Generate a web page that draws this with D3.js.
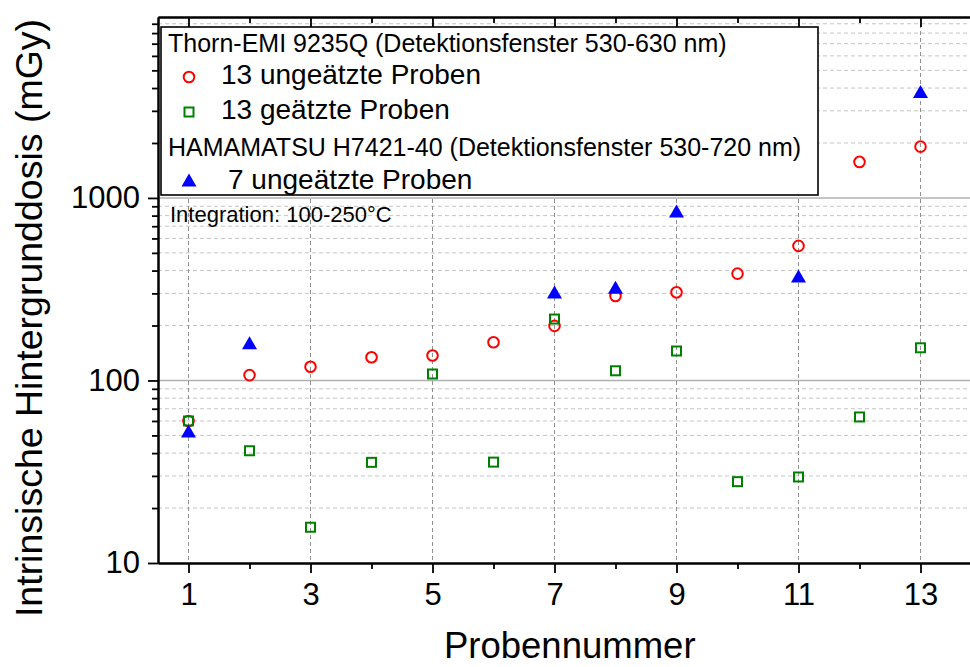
<!DOCTYPE html>
<html>
<head>
<meta charset="utf-8">
<script src="https://cdn.jsdelivr.net/npm/d3@7"></script>
<style>
  body { margin: 0; background: #fff; }
  text { font-family: "Liberation Sans", Arial, Helvetica, sans-serif; fill: #000; }
</style>
</head>
<body>
<svg id="chart" width="970" height="667"></svg>
<script>
// Intrinsic background dose per sample (mGy)
const sampleNumbers = d3.range(1, 14);
const unetchedThorn = [60, 107, 119, 134, 137, 162, 199, 290, 304, 385, 546, 1575, 1910];
const etchedThorn = [60, 41.2, 15.7, 35.6, 108.5, 35.7, 217, 113, 145, 27.9, 29.6, 63.1, 151];
const hamamatsuSamples = [1, 2, 7, 8, 9, 11, 13];
const unetchedHamamatsu = [52.2, 159, 301, 320, 838, 369, 3776];

const xMajorTicks = [1, 3, 5, 7, 9, 11, 13];
const xMinorTicks = [2, 4, 6, 8, 10, 12, 14];
const yMajorTicks = [10, 100, 1000];

const svg = d3.select("#chart");
const plotLeft = 158, plotTop = 17, plotBottom = 563, plotRight = 981.5;

const x = d3.scaleLinear().domain([0.5, 14]).range([plotLeft, plotRight]);
const y = d3.scaleLog().domain([10, 9800]).range([plotBottom, plotTop]);

const yMinorTicks = [];
yMajorTicks.forEach(d => { for (let k = 2; k <= 9; k++) if (d * k <= 9800) yMinorTicks.push(d * k); });

// grid
const grid = svg.append("g");
grid.selectAll(".hminor").data(yMinorTicks).join("line")
  .attr("x1", plotLeft).attr("x2", plotRight)
  .attr("y1", d => y(d)).attr("y2", d => y(d))
  .attr("stroke", "#c4c4c4").attr("stroke-width", 1).attr("stroke-dasharray", "4,3");
grid.selectAll(".hmajor").data([100, 1000]).join("line")
  .attr("x1", plotLeft).attr("x2", plotRight)
  .attr("y1", d => y(d)).attr("y2", d => y(d))
  .attr("stroke", "#b0b0b0").attr("stroke-width", 1.6);
grid.selectAll(".vmajor").data(xMajorTicks).join("line")
  .attr("x1", d => x(d)).attr("x2", d => x(d))
  .attr("y1", plotTop).attr("y2", plotBottom)
  .attr("stroke", "#909090").attr("stroke-width", 1).attr("stroke-dasharray", "4,3");

// data marks
const marks = svg.append("g");
marks.selectAll(".c").data(sampleNumbers).join("circle")
  .attr("cx", d => x(d)).attr("cy", (d, i) => y(unetchedThorn[i])).attr("r", 5.3)
  .attr("fill", "none").attr("stroke", "#ff0000").attr("stroke-width", 2);
marks.selectAll(".s").data(sampleNumbers).join("rect")
  .attr("x", d => x(d) - 4.5).attr("y", (d, i) => y(etchedThorn[i]) - 4.5)
  .attr("width", 9).attr("height", 9)
  .attr("fill", "none").attr("stroke", "#008000").attr("stroke-width", 2);
const tri = "M0,-7.5L7.5,5.5L-7.5,5.5Z";
marks.selectAll(".t").data(hamamatsuSamples).join("path")
  .attr("d", tri)
  .attr("transform", (d, i) => `translate(${x(d)},${y(unetchedHamamatsu[i])})`)
  .attr("fill", "#0000ff");

// axes
function styleAxis(g) {
  g.selectAll("path.domain").attr("stroke", "#000").attr("stroke-width", 2);
  g.selectAll(".tick line").attr("stroke", "#000").attr("stroke-width", 1.8);
  g.selectAll(".tick text").style("font-size", "31px").attr("fill", "#000");
}
svg.append("g").attr("transform", `translate(0,${plotBottom})`)
  .call(d3.axisBottom(x).tickValues(xMinorTicks).tickSize(6).tickSizeOuter(0).tickFormat(""))
  .call(styleAxis);
svg.append("g").attr("transform", `translate(0,${plotBottom})`)
  .call(d3.axisBottom(x).tickValues(xMajorTicks).tickSize(10).tickSizeOuter(0).tickPadding(10).tickFormat(d3.format("d")))
  .call(styleAxis);
svg.append("g").attr("transform", `translate(0,${plotTop})`)
  .call(d3.axisTop(x).tickValues(xMinorTicks).tickSize(-6).tickSizeOuter(0).tickFormat(""))
  .call(styleAxis);
svg.append("g").attr("transform", `translate(0,${plotTop})`)
  .call(d3.axisTop(x).tickValues(xMajorTicks).tickSize(-10).tickSizeOuter(0).tickFormat(""))
  .call(styleAxis);
svg.append("g").attr("transform", `translate(${plotLeft},0)`)
  .call(d3.axisLeft(y).tickValues(yMinorTicks).tickSize(6).tickSizeOuter(0).tickFormat(""))
  .call(styleAxis);
svg.append("g").attr("transform", `translate(${plotLeft},0)`)
  .call(d3.axisLeft(y).tickValues(yMajorTicks).tickSize(10).tickSizeOuter(0).tickPadding(8).tickFormat(d3.format("d")))
  .call(styleAxis);

// axis titles
svg.append("text").attr("x", (plotLeft + plotRight) / 2).attr("y", 658)
  .attr("text-anchor", "middle").style("font-size", "36.5px").text("Probennummer");
svg.append("text").attr("transform", "translate(42,318) rotate(-90)")
  .attr("text-anchor", "middle").style("font-size", "37.5px").text("Intrinsische Hintergrunddosis (mGy)");

// legend
const lg = svg.append("g");
lg.append("rect").attr("x", 161).attr("y", 27).attr("width", 657).attr("height", 168)
  .attr("fill", "#fff").attr("stroke", "#000").attr("stroke-width", 1.6);
lg.append("text").attr("x", 168).attr("y", 52).style("font-size", "25px")
  .text("Thorn-EMI 9235Q (Detektionsfenster 530-630 nm)");
lg.append("circle").attr("cx", 189).attr("cy", 77).attr("r", 5.3)
  .attr("fill", "none").attr("stroke", "#ff0000").attr("stroke-width", 2);
lg.append("text").attr("x", 221).attr("y", 84).style("font-size", "28px").text("13 ungeätzte Proben");
lg.append("rect").attr("x", 189 - 4.5).attr("y", 112 - 4.5).attr("width", 9).attr("height", 9)
  .attr("fill", "none").attr("stroke", "#008000").attr("stroke-width", 2);
lg.append("text").attr("x", 221).attr("y", 119).style("font-size", "28px").text("13 geätzte Proben");
lg.append("text").attr("x", 168).attr("y", 156).style("font-size", "25px")
  .text("HAMAMATSU H7421-40 (Detektionsfenster 530-720 nm)");
lg.append("path").attr("d", tri).attr("transform", "translate(189,181)").attr("fill", "#0000ff");
lg.append("text").attr("x", 228).attr("y", 189).style("font-size", "28px").text("7 ungeätzte Proben");

svg.append("text").attr("x", 170).attr("y", 222).style("font-size", "22px").text("Integration: 100-250°C");
</script>
</body>
</html>
